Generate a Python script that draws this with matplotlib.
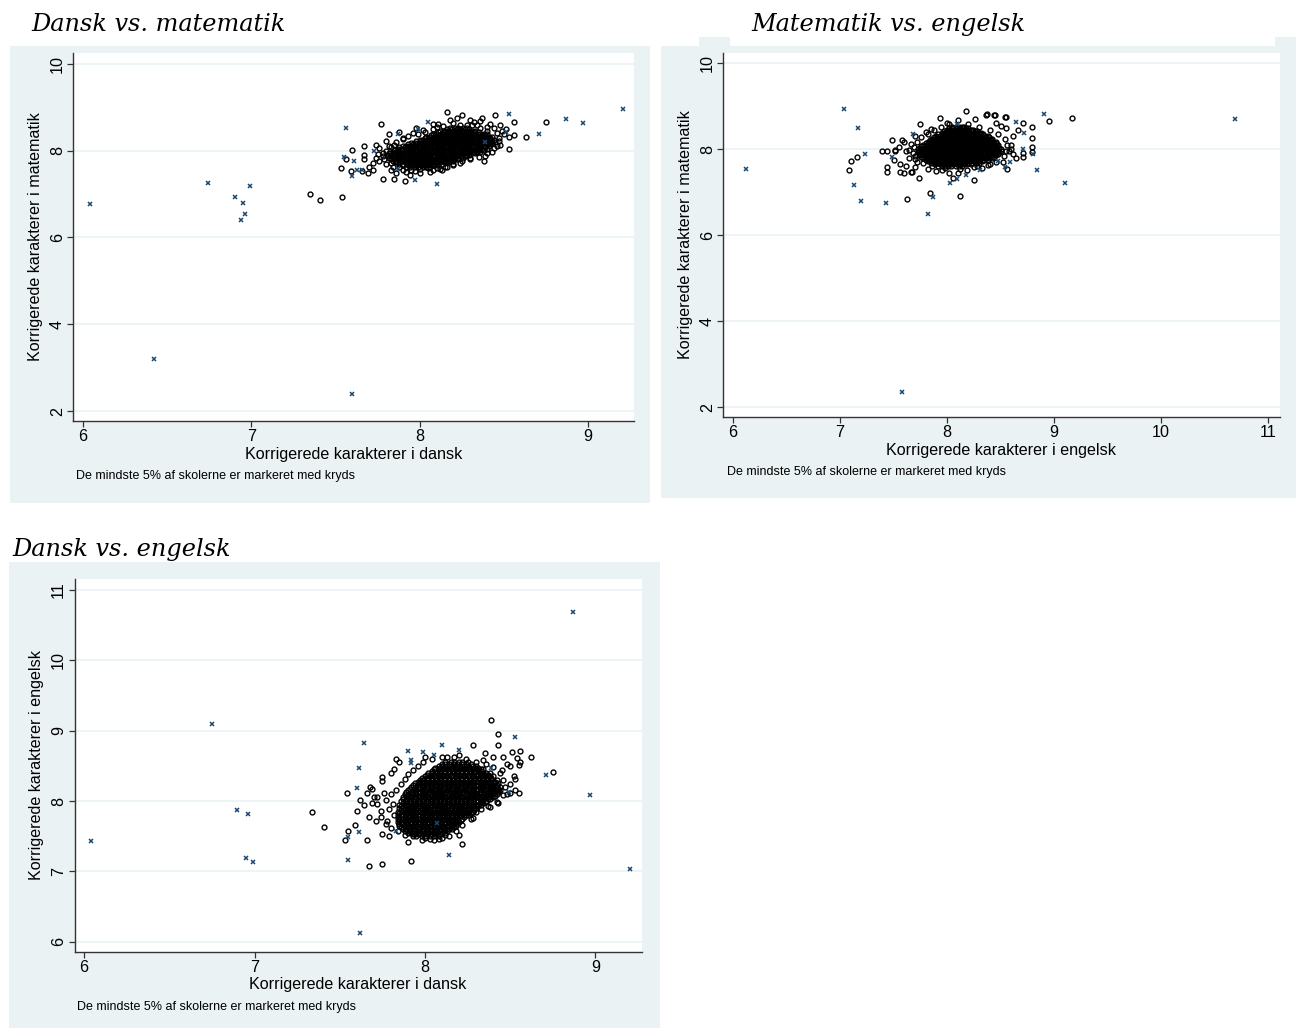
import numpy as np
import matplotlib
matplotlib.use("Agg")
import matplotlib.pyplot as plt
from matplotlib.patches import Rectangle

W, H = 1301, 1028
DPI = 100

# ------------------------------------------------------------------
# Data. Dense middle of each cloud is written one y-level per line:
# "y: x x x ...". Outer schools, schools along the rim of the cloud
# and the smallest 5% (crosses) are listed as separate x / y arrays.
# ------------------------------------------------------------------

# Dansk (x) vs. matematik (y)
dm_core = """
7.62: 7.92 7.94 7.97 7.99 8.02 8.04 8.06
7.66: 7.90 7.93 7.96 7.98 8.01 8.03 8.05 8.08 8.10
7.69: 7.88 7.90 7.93 7.95 7.97 8.00 8.02 8.04 8.07 8.09 8.11 8.13
7.73: 7.86 7.88 7.91 7.94 7.96 7.99 8.01 8.03 8.06 8.08 8.10 8.12 8.15 8.17
7.76: 7.84 7.86 7.89 7.91 7.93 7.95 7.98 8.00 8.02 8.05 8.07 8.09 8.11 8.14 8.16 8.18 8.20
7.80: 7.83 7.85 7.88 7.90 7.92 7.95 7.97 7.99 8.01 8.04 8.06 8.08 8.11 8.13 8.15 8.17 8.20 8.22
7.83: 7.82 7.84 7.87 7.89 7.91 7.94 7.96 7.98 8.00 8.03 8.05 8.07 8.10 8.12 8.14 8.16 8.19 8.21 8.23 8.26
7.87: 7.81 7.83 7.85 7.88 7.90 7.93 7.95 7.97 7.99 8.01 8.04 8.06 8.09 8.11 8.13 8.15 8.17 8.20 8.22 8.25 8.27
7.90: 7.81 7.83 7.86 7.88 7.90 7.92 7.95 7.97 7.99 8.02 8.04 8.06 8.08 8.11 8.13 8.15 8.18 8.20 8.22 8.24 8.27 8.29
7.94: 7.82 7.85 7.87 7.89 7.92 7.94 7.96 7.99 8.01 8.03 8.05 8.08 8.10 8.12 8.14 8.17 8.19 8.21 8.24 8.26 8.28 8.31 8.33
7.97: 7.84 7.86 7.88 7.91 7.93 7.95 7.98 8.00 8.02 8.04 8.07 8.09 8.11 8.13 8.16 8.18 8.20 8.23 8.25 8.27 8.29 8.32 8.34 8.36
8.01: 7.85 7.88 7.90 7.93 7.95 7.97 8.00 8.02 8.04 8.06 8.09 8.11 8.13 8.15 8.18 8.20 8.22 8.25 8.27 8.29 8.31 8.34 8.36 8.38
8.04: 7.87 7.89 7.92 7.94 7.96 7.98 8.01 8.03 8.05 8.08 8.10 8.12 8.14 8.17 8.19 8.21 8.24 8.26 8.28 8.30 8.33 8.35 8.37 8.40
8.08: 7.88 7.91 7.93 7.95 7.98 8.00 8.02 8.04 8.07 8.09 8.11 8.13 8.16 8.18 8.20 8.23 8.25 8.27 8.29 8.32 8.34 8.36 8.39
8.11: 7.90 7.92 7.95 7.97 7.99 8.02 8.04 8.06 8.08 8.11 8.13 8.15 8.18 8.20 8.22 8.24 8.27 8.29 8.31 8.34 8.36 8.38 8.41
8.15: 7.93 7.96 7.98 8.01 8.03 8.05 8.07 8.10 8.12 8.14 8.17 8.19 8.21 8.23 8.26 8.28 8.30 8.33 8.35 8.37 8.40 8.42
8.18: 7.95 7.97 8.00 8.02 8.04 8.06 8.09 8.11 8.13 8.16 8.18 8.20 8.22 8.25 8.27 8.29 8.32 8.34 8.36 8.39 8.41 8.43
8.22: 7.98 8.01 8.03 8.06 8.08 8.10 8.13 8.15 8.17 8.19 8.22 8.24 8.26 8.29 8.31 8.33 8.36 8.38 8.40 8.43
8.25: 8.00 8.02 8.05 8.07 8.09 8.12 8.14 8.16 8.18 8.21 8.23 8.25 8.28 8.30 8.32 8.35 8.37 8.39 8.42 8.44
8.29: 8.03 8.05 8.08 8.10 8.12 8.14 8.17 8.19 8.21 8.24 8.26 8.28 8.30 8.33 8.35 8.37 8.40 8.42
8.32: 8.04 8.06 8.09 8.11 8.13 8.15 8.18 8.20 8.22 8.25 8.27 8.29 8.31 8.34 8.36 8.38 8.41 8.43
8.36: 8.07 8.09 8.12 8.14 8.16 8.19 8.21 8.23 8.26 8.28 8.30 8.32 8.35 8.37 8.39
8.39: 8.08 8.10 8.13 8.15 8.17 8.20 8.22 8.24 8.27 8.29 8.31 8.33 8.36 8.38 8.40
8.43: 8.11 8.14 8.16 8.18 8.21 8.23 8.25 8.28 8.30 8.32 8.35
8.46: 8.12 8.15 8.17 8.19 8.22 8.24 8.26 8.29 8.31 8.33
8.50: 8.16 8.19 8.22 8.24 8.27 8.29
8.53: 8.18 8.21 8.23 8.26 8.28
"""
dm_rim_x = [7.86, 7.90, 7.93, 7.99, 8.03, 8.08, 8.14, 8.24, 8.31, 8.44, 8.46, 8.47,
            8.46, 8.43, 8.39, 8.30, 8.25, 8.20, 8.15, 8.08, 8.00, 7.95, 7.88, 7.83,
            7.79, 7.78, 7.80, 7.83, 7.85, 7.76, 7.74, 7.92, 8.11, 8.36, 8.40]
dm_rim_y = [8.20, 8.26, 8.33, 8.38, 8.44, 8.50, 8.56, 8.60, 8.58, 8.52, 8.40, 8.22,
            8.10, 7.98, 7.88, 7.84, 7.76, 7.70, 7.62, 7.55, 7.58, 7.56, 7.62, 7.72,
            7.80, 7.88, 8.00, 8.08, 8.14, 7.76, 7.84, 7.50, 8.61, 8.52, 8.45]
dm_out_x = [7.35, 7.41, 7.54, 7.53, 7.60, 7.56, 7.67, 7.67, 7.59, 7.66, 7.69, 7.72,
            7.77, 7.78, 7.85, 7.91, 7.67, 7.74, 7.75, 7.82, 7.88, 7.97, 8.05, 8.10,
            8.12, 8.20, 8.16, 8.25, 8.30, 8.32, 8.37, 8.45, 8.48, 8.51, 8.56, 8.53,
            8.56, 8.53, 8.63, 8.75, 8.38, 8.35, 8.43, 8.45, 8.49, 8.40, 8.20, 8.13,
            7.80, 7.78, 7.76, 7.80, 7.83, 7.86, 7.94, 8.00, 8.06, 8.16, 8.24, 8.30,
            8.40, 8.44, 8.47, 8.42, 8.28, 8.10, 8.02, 7.96, 7.90, 8.34, 8.48, 8.50,
            7.82, 7.72, 7.70, 7.84, 7.90, 8.18, 8.22, 8.08, 7.98, 8.36]
dm_out_y = [7.00, 6.86, 6.93, 7.61, 8.01, 7.80, 8.11, 7.81, 7.52, 7.52, 7.49, 7.56,
            8.61, 7.34, 7.34, 7.30, 7.90, 8.13, 7.92, 8.38, 8.43, 7.53, 7.61, 7.60,
            7.57, 7.66, 8.90, 8.82, 8.71, 8.66, 8.75, 8.81, 8.59, 8.49, 8.65, 8.32,
            8.35, 8.03, 8.31, 8.67, 7.76, 7.86, 8.17, 8.20, 8.46, 8.54, 8.63, 7.55,
            7.70, 7.95, 8.05, 8.22, 7.56, 7.48, 7.45, 7.48, 7.50, 7.63, 7.72, 7.80,
            7.95, 8.05, 8.30, 8.62, 8.60, 8.55, 8.48, 8.40, 8.30, 8.60, 8.12, 8.38,
            8.10, 7.72, 7.63, 7.62, 7.55, 8.70, 8.76, 8.62, 8.52, 8.68]
dm_small_x = [6.04, 6.42, 6.74, 6.90, 6.95, 6.96, 6.94, 6.99, 7.60, 7.56, 7.55, 7.61,
              7.63, 7.66, 7.60, 7.87, 8.05, 7.99, 7.97, 8.10, 7.87, 8.53, 8.51, 8.71,
              8.87, 8.97, 9.21, 7.73, 8.39]
dm_small_y = [6.77, 3.20, 7.25, 6.93, 6.79, 6.54, 6.40, 7.18, 2.39, 8.52, 7.86, 7.76,
              7.56, 7.55, 7.42, 8.38, 8.66, 8.49, 7.33, 7.23, 7.57, 8.84, 8.42, 8.38,
              8.72, 8.63, 8.96, 7.99, 8.21]

# Engelsk (x) vs. matematik (y)
em_core = """
7.62: 7.92 7.95 7.98 8.01 8.04 8.08 8.11 8.14
7.66: 7.89 7.93 7.96 7.99 8.03 8.06 8.09 8.12 8.16 8.19 8.22
7.69: 7.85 7.88 7.91 7.94 7.98 8.01 8.04 8.07 8.10 8.13 8.17 8.20 8.23 8.27 8.30
7.73: 7.82 7.85 7.88 7.92 7.95 7.98 8.01 8.05 8.08 8.11 8.14 8.17 8.21 8.24 8.27 8.30 8.33
7.76: 7.80 7.83 7.86 7.89 7.93 7.96 7.99 8.02 8.05 8.09 8.12 8.15 8.18 8.21 8.25 8.28 8.31 8.35 8.38
7.80: 7.78 7.81 7.84 7.88 7.91 7.94 7.97 8.00 8.04 8.07 8.10 8.13 8.16 8.20 8.23 8.26 8.29 8.32 8.36 8.39 8.42
7.83: 7.76 7.79 7.82 7.86 7.89 7.92 7.95 7.98 8.02 8.05 8.08 8.11 8.14 8.18 8.21 8.24 8.27 8.30 8.34 8.37 8.40 8.44
7.87: 7.75 7.78 7.82 7.85 7.88 7.91 7.94 7.98 8.01 8.04 8.07 8.10 8.14 8.17 8.20 8.23 8.26 8.30 8.33 8.36 8.39 8.43 8.46
7.90: 7.74 7.77 7.80 7.84 7.87 7.90 7.93 7.96 8.00 8.03 8.06 8.09 8.12 8.16 8.19 8.22 8.25 8.28 8.32 8.35 8.38 8.41 8.45 8.48
7.94: 7.73 7.76 7.79 7.82 7.86 7.89 7.92 7.95 7.98 8.02 8.05 8.08 8.11 8.14 8.18 8.21 8.24 8.27 8.30 8.34 8.37 8.40 8.43 8.47 8.49
7.97: 7.74 7.77 7.81 7.84 7.87 7.90 7.94 7.97 8.00 8.03 8.06 8.10 8.13 8.16 8.19 8.22 8.26 8.29 8.32 8.35 8.38 8.42 8.45 8.48 8.50
8.01: 7.73 7.76 7.79 7.83 7.86 7.89 7.92 7.96 7.99 8.02 8.05 8.08 8.12 8.15 8.18 8.21 8.24 8.28 8.31 8.34 8.37 8.40 8.44 8.47 8.50
8.04: 7.75 7.78 7.81 7.85 7.88 7.91 7.94 7.97 8.01 8.04 8.07 8.10 8.13 8.17 8.20 8.23 8.26 8.29 8.33 8.36 8.39 8.42 8.46 8.49
8.08: 7.76 7.79 7.83 7.86 7.89 7.92 7.95 7.99 8.02 8.05 8.08 8.11 8.15 8.18 8.21 8.24 8.27 8.31 8.34 8.37 8.40 8.44 8.47
8.11: 7.78 7.81 7.84 7.87 7.91 7.94 7.97 8.00 8.03 8.07 8.10 8.13 8.16 8.19 8.23 8.26 8.29 8.32 8.35 8.39 8.42 8.45 8.48
8.15: 7.80 7.83 7.86 7.89 7.93 7.96 7.99 8.02 8.05 8.09 8.12 8.15 8.18 8.22 8.25 8.28 8.31 8.34 8.38 8.41 8.44 8.46
8.18: 7.82 7.85 7.88 7.92 7.95 7.98 8.01 8.04 8.08 8.11 8.14 8.17 8.20 8.24 8.27 8.30 8.33 8.36 8.40 8.43 8.46
8.22: 7.84 7.87 7.90 7.94 7.97 8.00 8.03 8.06 8.10 8.13 8.16 8.19 8.22 8.26 8.29 8.32 8.35 8.38 8.41
8.25: 7.86 7.89 7.92 7.96 7.99 8.02 8.05 8.08 8.12 8.15 8.18 8.21 8.24 8.28 8.31 8.34 8.37 8.40 8.42
8.29: 7.88 7.91 7.95 7.98 8.01 8.04 8.07 8.11 8.14 8.17 8.20 8.23 8.27 8.30 8.33 8.36 8.39
8.32: 7.90 7.93 7.97 8.00 8.03 8.06 8.09 8.13 8.16 8.19 8.22 8.25 8.29 8.32 8.35 8.38
8.36: 7.92 7.96 7.99 8.03 8.06 8.09 8.12 8.15 8.19 8.22 8.25 8.28 8.31 8.34
8.39: 7.95 7.98 8.01 8.05 8.08 8.11 8.14 8.17 8.21 8.24 8.27 8.30 8.32
8.43: 7.97 8.00 8.04 8.07 8.11 8.14 8.17 8.20 8.23 8.26 8.28
8.46: 8.00 8.03 8.06 8.10 8.13 8.16 8.19 8.22 8.24
8.50: 8.02 8.06 8.09 8.12 8.15 8.18 8.20
8.53: 8.05 8.08 8.11 8.14 8.16
"""
em_rim_x = [7.70, 7.68, 7.69, 7.72, 7.76, 7.82, 7.88, 7.94, 8.02, 8.20, 8.30, 8.40,
            8.48, 8.54, 8.56, 8.55, 8.53, 8.46, 8.38, 8.25, 8.12, 7.98, 7.86, 7.78,
            7.72, 8.60, 8.62, 8.50, 7.64, 7.62]
em_rim_y = [7.78, 7.92, 8.06, 8.18, 8.28, 8.36, 8.44, 8.52, 8.58, 8.60, 8.52, 8.46,
            8.36, 8.24, 8.10, 7.96, 7.84, 7.70, 7.64, 7.58, 7.55, 7.56, 7.62, 7.68,
            7.70, 8.00, 7.88, 8.55, 7.80, 7.96]
em_out_x = [9.17, 8.95, 8.79, 8.79, 8.79, 8.71, 8.56, 8.54, 8.45, 8.37, 8.18, 7.93,
            7.75, 8.25, 8.12, 7.84, 7.74, 7.63, 8.06, 8.10, 7.08, 7.10, 7.16, 7.39,
            7.44, 7.44, 7.44, 7.51, 7.58, 7.64, 7.50, 7.56, 7.67, 7.49, 7.55, 7.51,
            7.56, 7.60, 7.66, 7.90, 8.02, 8.19, 8.33, 8.64, 8.71, 8.79, 8.71, 8.55,
            8.44, 8.36, 8.66, 8.62, 8.60, 8.58, 8.52, 8.40, 7.70, 7.66, 7.70, 7.85,
            7.80, 8.00, 8.10, 8.26, 8.46, 8.55, 7.62, 7.70, 7.82, 7.95, 8.28, 7.60]
em_out_y = [8.72, 8.66, 8.53, 8.26, 8.05, 7.91, 7.54, 8.76, 8.80, 8.81, 8.89, 8.72,
            8.59, 7.29, 6.92, 6.99, 7.33, 6.84, 7.33, 7.45, 7.52, 7.73, 7.83, 7.96,
            7.96, 7.60, 7.48, 7.96, 8.22, 7.99, 7.75, 7.48, 7.48, 8.21, 8.06, 7.98,
            7.67, 7.44, 7.48, 7.49, 7.46, 7.52, 7.56, 7.79, 7.83, 7.93, 8.62, 8.75,
            8.80, 8.80, 8.45, 8.30, 8.10, 7.95, 7.70, 7.65, 7.85, 8.12, 8.30, 8.48,
            8.40, 8.62, 8.68, 8.70, 8.62, 8.50, 7.62, 7.58, 7.55, 7.52, 7.62, 8.18]
em_small_x = [6.12, 7.04, 7.17, 7.23, 7.13, 7.20, 7.43, 7.82, 7.87, 8.03, 8.09, 8.18,
              7.68, 7.49, 9.10, 8.84, 8.80, 8.71, 8.72, 8.64, 8.59, 8.54, 8.48, 10.69,
              7.58, 8.09, 8.31, 8.91]
em_small_y = [7.54, 8.94, 8.50, 7.89, 7.17, 6.80, 6.76, 6.50, 6.90, 7.21, 7.30, 7.40,
              8.36, 7.83, 7.22, 7.52, 7.89, 8.01, 8.37, 8.63, 7.71, 7.60, 7.74, 8.70,
              2.36, 8.60, 7.52, 8.81]

# Dansk (x) vs. engelsk (y)
de_core = """
7.500: 7.95 7.98 8.00 8.03 8.05 8.08
7.525: 7.93 7.96 7.99 8.01 8.04 8.06 8.09
7.550: 7.90 7.92 7.95 7.97 8.00 8.02 8.05 8.07 8.10 8.12
7.575: 7.88 7.91 7.93 7.96 7.98 8.01 8.03 8.06 8.08 8.11 8.13
7.600: 7.87 7.89 7.92 7.94 7.97 7.99 8.02 8.04 8.07 8.09 8.12 8.14 8.16
7.625: 7.86 7.88 7.91 7.93 7.96 7.98 8.01 8.03 8.06 8.08 8.11 8.13 8.16 8.17
7.650: 7.85 7.88 7.90 7.93 7.95 7.98 8.00 8.03 8.05 8.08 8.10 8.13 8.15 8.18
7.675: 7.85 7.87 7.90 7.92 7.95 7.97 8.00 8.02 8.05 8.07 8.10 8.12 8.15 8.17 8.19
7.700: 7.84 7.86 7.89 7.91 7.94 7.96 7.99 8.01 8.04 8.06 8.09 8.11 8.14 8.16 8.18 8.20
7.725: 7.85 7.88 7.90 7.93 7.95 7.98 8.00 8.03 8.05 8.08 8.10 8.13 8.15 8.18 8.21
7.750: 7.84 7.87 7.89 7.92 7.94 7.97 7.99 8.02 8.04 8.07 8.09 8.12 8.14 8.17 8.19 8.22
7.775: 7.85 7.88 7.90 7.93 7.95 7.98 8.00 8.03 8.05 8.08 8.10 8.13 8.15 8.18 8.20 8.23
7.800: 7.84 7.86 7.89 7.91 7.94 7.96 7.99 8.01 8.04 8.06 8.09 8.11 8.14 8.16 8.19 8.21 8.24 8.25
7.825: 7.85 7.88 7.90 7.93 7.95 7.98 8.00 8.03 8.05 8.08 8.10 8.13 8.15 8.18 8.20 8.23 8.25 8.27
7.850: 7.84 7.87 7.89 7.92 7.94 7.97 7.99 8.02 8.04 8.07 8.09 8.12 8.14 8.17 8.19 8.22 8.24 8.26 8.28
7.875: 7.86 7.88 7.91 7.93 7.96 7.98 8.01 8.03 8.06 8.08 8.11 8.13 8.16 8.18 8.21 8.23 8.26 8.29
7.900: 7.85 7.87 7.90 7.92 7.95 7.97 8.00 8.02 8.05 8.07 8.10 8.12 8.15 8.17 8.20 8.22 8.25 8.27 8.30
7.925: 7.86 7.89 7.91 7.94 7.96 7.99 8.01 8.04 8.06 8.09 8.11 8.14 8.16 8.19 8.21 8.24 8.26 8.29 8.31
7.950: 7.85 7.88 7.90 7.93 7.95 7.98 8.00 8.03 8.05 8.08 8.10 8.13 8.15 8.18 8.20 8.23 8.25 8.28 8.30 8.33
7.975: 7.87 7.89 7.92 7.94 7.97 7.99 8.02 8.04 8.07 8.09 8.12 8.14 8.17 8.19 8.22 8.24 8.27 8.29 8.32 8.34
8.000: 7.86 7.88 7.91 7.93 7.96 7.98 8.01 8.03 8.06 8.08 8.11 8.13 8.16 8.18 8.21 8.23 8.26 8.28 8.31 8.33 8.36
8.025: 7.87 7.89 7.92 7.94 7.97 7.99 8.02 8.04 8.07 8.09 8.12 8.14 8.17 8.19 8.22 8.24 8.27 8.29 8.32 8.34 8.37 8.38
8.050: 7.87 7.90 7.92 7.95 7.97 8.00 8.02 8.05 8.07 8.10 8.12 8.15 8.17 8.20 8.22 8.25 8.27 8.30 8.32 8.35 8.37 8.40
8.075: 7.89 7.91 7.94 7.96 7.99 8.01 8.04 8.06 8.09 8.11 8.14 8.16 8.19 8.21 8.24 8.26 8.29 8.31 8.34 8.36 8.39 8.41
8.100: 7.88 7.90 7.93 7.95 7.98 8.00 8.03 8.05 8.08 8.10 8.13 8.15 8.18 8.20 8.23 8.25 8.28 8.30 8.33 8.35 8.38 8.40 8.42
8.125: 7.89 7.92 7.94 7.97 7.99 8.02 8.04 8.07 8.09 8.12 8.14 8.17 8.19 8.22 8.24 8.27 8.29 8.32 8.34 8.37 8.39 8.41 8.43
8.150: 7.90 7.93 7.95 7.98 8.00 8.03 8.05 8.08 8.10 8.13 8.15 8.18 8.20 8.23 8.25 8.28 8.30 8.33 8.35 8.38 8.40 8.43 8.44
8.175: 7.91 7.94 7.96 7.99 8.01 8.04 8.06 8.09 8.11 8.14 8.16 8.19 8.21 8.24 8.26 8.29 8.31 8.34 8.36 8.39 8.41 8.43
8.200: 7.92 7.94 7.97 7.99 8.02 8.04 8.07 8.09 8.12 8.14 8.17 8.19 8.22 8.24 8.27 8.29 8.32 8.34 8.37 8.39 8.42 8.44
8.225: 7.93 7.96 7.98 8.01 8.03 8.06 8.08 8.11 8.13 8.16 8.18 8.21 8.23 8.26 8.28 8.31 8.33 8.36 8.38 8.40 8.42
8.250: 7.94 7.97 7.99 8.02 8.04 8.07 8.09 8.12 8.14 8.17 8.19 8.22 8.24 8.27 8.29 8.32 8.34 8.37 8.39 8.41 8.43
8.275: 7.96 7.98 8.01 8.03 8.06 8.08 8.11 8.13 8.16 8.18 8.21 8.23 8.26 8.28 8.31 8.33 8.36 8.38 8.41
8.300: 7.97 7.99 8.02 8.04 8.07 8.09 8.12 8.14 8.17 8.19 8.22 8.24 8.27 8.29 8.32 8.34 8.37 8.39 8.42
8.325: 7.98 8.01 8.04 8.06 8.09 8.11 8.14 8.16 8.19 8.21 8.24 8.26 8.29 8.31 8.34 8.36 8.39
8.350: 8.00 8.03 8.05 8.08 8.10 8.13 8.15 8.18 8.20 8.23 8.25 8.28 8.30 8.33 8.35 8.38 8.40
8.375: 8.01 8.04 8.06 8.08 8.11 8.13 8.16 8.18 8.21 8.23 8.26 8.28 8.31 8.33 8.35 8.37
8.400: 8.02 8.04 8.07 8.09 8.12 8.14 8.17 8.19 8.22 8.24 8.27 8.29 8.32 8.34 8.36 8.38
8.425: 8.04 8.06 8.09 8.11 8.14 8.16 8.19 8.21 8.24 8.26 8.29 8.31 8.33
8.450: 8.05 8.08 8.10 8.13 8.15 8.18 8.20 8.23 8.25 8.28 8.30 8.33 8.34
8.475: 8.06 8.09 8.11 8.14 8.16 8.19 8.21 8.24 8.26 8.29 8.31
8.500: 8.08 8.10 8.13 8.15 8.18 8.20 8.23 8.25 8.28 8.30
8.525: 8.10 8.12 8.14 8.17 8.19 8.22 8.24 8.27
8.550: 8.12 8.15 8.17 8.20 8.22 8.25
"""
de_rim_x = [7.80, 7.78, 7.82, 7.79, 7.81, 7.77, 7.80, 7.83, 7.86, 7.88, 7.90, 7.93,
            7.96, 7.99, 8.04, 8.10, 8.17, 8.24, 8.30, 8.36, 8.40, 8.44, 8.46, 8.47,
            8.46, 8.42, 8.38, 8.30, 8.27, 8.22, 8.18, 8.12, 8.08, 8.00, 7.93, 7.88,
            7.84, 7.74, 7.72, 7.70, 7.76, 7.71, 7.64, 7.62, 8.36, 8.50, 8.52, 8.48]
de_rim_y = [7.62, 7.72, 7.80, 7.88, 7.96, 8.02, 8.10, 8.16, 8.24, 8.32, 8.38, 8.44,
            8.50, 8.55, 8.60, 8.62, 8.62, 8.60, 8.56, 8.52, 8.48, 8.40, 8.30, 8.20,
            8.08, 7.98, 7.92, 7.84, 7.74, 7.66, 7.58, 7.52, 7.46, 7.47, 7.50, 7.52,
            7.58, 7.86, 7.96, 8.06, 8.12, 7.72, 7.95, 8.02, 7.98, 8.24, 8.36, 8.52]
de_out_x = [8.39, 8.43, 8.43, 8.28, 8.13, 8.35, 8.40, 8.46, 8.51, 8.56, 8.54, 8.62,
            8.55, 8.45, 8.53, 8.53, 8.55, 8.50, 8.48, 8.75, 8.43, 7.83, 7.85, 7.75,
            7.75, 7.68, 7.69, 7.66, 7.54, 7.34, 7.41, 7.60, 7.59, 7.55, 7.53, 7.66,
            7.67, 7.75, 7.92, 7.75, 7.69, 7.67, 7.74, 7.77, 7.79, 7.98, 8.03, 8.05,
            8.14, 8.20, 8.22, 8.28, 8.33, 8.37, 8.34, 8.40, 8.43, 8.09, 8.50, 8.56,
            7.80, 7.82, 7.72, 8.00, 8.20, 7.90, 8.10]
de_out_y = [9.15, 8.95, 8.79, 8.79, 8.63, 8.68, 8.62, 8.62, 8.70, 8.71, 8.61, 8.62,
            8.51, 8.44, 8.32, 8.15, 8.11, 8.11, 8.10, 8.41, 7.97, 8.60, 8.56, 8.34,
            8.28, 8.20, 8.17, 8.12, 8.12, 7.84, 7.63, 7.86, 7.66, 7.58, 7.44, 7.45,
            7.08, 7.10, 7.15, 7.53, 7.97, 7.77, 7.77, 7.68, 7.50, 7.44, 7.46, 7.45,
            7.50, 7.52, 7.39, 7.76, 7.88, 7.93, 8.58, 8.20, 8.16, 7.59, 8.50, 8.55,
            8.40, 8.46, 8.05, 8.62, 8.65, 7.42, 7.48]
de_small_x = [6.04, 6.75, 6.90, 6.96, 6.95, 6.99, 7.62, 7.64, 7.61, 7.60, 7.61, 7.55,
              7.55, 7.90, 7.92, 7.92, 7.99, 8.10, 8.20, 8.05, 8.14, 8.53, 8.71, 8.87,
              8.97, 9.20, 7.83, 8.07, 8.39, 8.49]
de_small_y = [7.43, 9.10, 7.87, 7.82, 7.19, 7.13, 6.13, 8.83, 8.47, 8.18, 7.56, 7.49,
              7.16, 8.71, 8.58, 8.54, 8.69, 8.80, 8.73, 8.66, 7.23, 8.91, 8.37, 10.69,
              8.09, 7.03, 7.57, 7.69, 8.47, 8.13]

X_TICKS_D = [6, 7, 8, 9]
X_TICKS_E = [6, 7, 8, 9, 10, 11]
Y_TICKS_M = [2, 4, 6, 8, 10]
Y_TICKS_E = [6, 7, 8, 9, 10, 11]

NOTE = "De mindste 5% af skolerne er markeret med kryds"

# ------------------------------------------------------------------
BG = "#EAF2F3"
GRID = "#EAF2F3"
NAVY = "#1A476F"
AXC = "#333333"
SANS = ["Liberation Sans", "DejaVu Sans"]
SERIF = ["DejaVu Serif"]


def rows_to_xy(text):
    xs, ys = [], []
    for line in text.strip().splitlines():
        yv, vals = line.split(":")
        for v in vals.split():
            xs.append(float(v))
            ys.append(float(yv))
    return np.array(xs), np.array(ys)


fig = plt.figure(figsize=(W / DPI, H / DPI), dpi=DPI)
fig.patch.set_facecolor("white")


def fx(x):
    return x / W


def fy(y):
    return 1 - y / H


def rect(l, t, r, b):
    fig.add_artist(Rectangle((fx(l), fy(b)), (r - l) / W, (b - t) / H,
                             transform=fig.transFigure, facecolor=BG,
                             edgecolor="none", zorder=0))


def panel(box, xlim, ylim, xticks, yticks, core, rx, ry, ox, oy, sx, sy,
          title, title_xy, xlabel, xlabel_xy, ylabel, ylabel_xy, note_xy):
    l, t, r, b = box
    ax = fig.add_axes([fx(l), fy(b), (r - l) / W, (b - t) / H])
    ax.set_facecolor("white")
    cx, cy = rows_to_xy(core)
    allx = np.concatenate([cx, np.array(rx), np.array(ox)])
    ally = np.concatenate([cy, np.array(ry), np.array(oy)])
    ax.plot(allx, ally, linestyle="none", marker="o", markersize=3.5,
            markerfacecolor="none", markeredgecolor="black",
            markeredgewidth=1.0, zorder=3)
    ax.plot(sx, sy, linestyle="none", marker="x", markersize=3.0,
            color=NAVY, markeredgewidth=1.1, zorder=4)
    ax.set_xlim(*xlim)
    ax.set_ylim(*ylim)
    ax.set_xticks(xticks)
    ax.set_yticks(yticks)
    ax.set_xticklabels([str(v) for v in xticks], fontfamily=SANS, fontsize=11.6)
    ax.set_yticklabels([str(v) for v in yticks], fontfamily=SANS, fontsize=11.6,
                       rotation=90, va="center")
    for yv in yticks:
        ax.axhline(yv, color=GRID, lw=1.2, zorder=1)
    for s in ("top", "right"):
        ax.spines[s].set_visible(False)
    for s in ("left", "bottom"):
        ax.spines[s].set_color(AXC)
        ax.spines[s].set_linewidth(1.0)
    ax.tick_params(axis="both", direction="out", length=4, width=0.9,
                   color=AXC, labelcolor="black")
    ax.tick_params(axis="x", pad=2)
    ax.tick_params(axis="y", pad=2)
    fig.text(fx(title_xy[0]), fy(title_xy[1]), title, fontfamily=SERIF,
             fontstyle="italic", fontsize=17.3, ha="left", va="baseline")
    fig.text(fx(xlabel_xy[0]), fy(xlabel_xy[1]), xlabel, fontfamily=SANS,
             fontsize=11.6, ha="center", va="center")
    fig.text(fx(ylabel_xy[0]), fy(ylabel_xy[1]), ylabel, fontfamily=SANS,
             fontsize=11.6, ha="center", va="center", rotation=90)
    fig.text(fx(note_xy[0]), fy(note_xy[1]), NOTE, fontfamily=SANS,
             fontsize=9, ha="left", va="center")
    return ax


# panel backgrounds
rect(10, 46, 650, 503)
rect(661, 46, 1296, 498)
rect(699, 37, 730, 46)
rect(1275, 37, 1296, 46)
rect(9, 562, 660, 1028)

panel((73.4, 53, 634, 421), (5.943, 9.273), (1.77, 10.25), X_TICKS_D, Y_TICKS_M,
      dm_core, dm_rim_x, dm_rim_y, dm_out_x, dm_out_y, dm_small_x, dm_small_y,
      "Dansk vs. matematik", (31, 31),
      "Korrigerede karakterer i dansk", (354, 455),
      "Korrigerede karakterer i matematik", (36, 237), (76, 476))

panel((723.4, 53, 1279.5, 417), (5.91, 11.107), (1.775, 10.24), X_TICKS_E, Y_TICKS_M,
      em_core, em_rim_x, em_rim_y, em_out_x, em_out_y, em_small_x, em_small_y,
      "Matematik vs. engelsk", (751, 31),
      "Korrigerede karakterer i engelsk", (1001, 451),
      "Korrigerede karakterer i matematik", (686, 235), (727, 472))

panel((74.5, 579, 642, 952), (5.944, 9.273), (5.853, 11.157), X_TICKS_D, Y_TICKS_E,
      de_core, de_rim_x, de_rim_y, de_out_x, de_out_y, de_small_x, de_small_y,
      "Dansk vs. engelsk", (12, 556),
      "Korrigerede karakterer i dansk", (358, 985),
      "Korrigerede karakterer i engelsk", (37, 765), (77, 1007))

fig.savefig("out.png", dpi=DPI, facecolor="white")
